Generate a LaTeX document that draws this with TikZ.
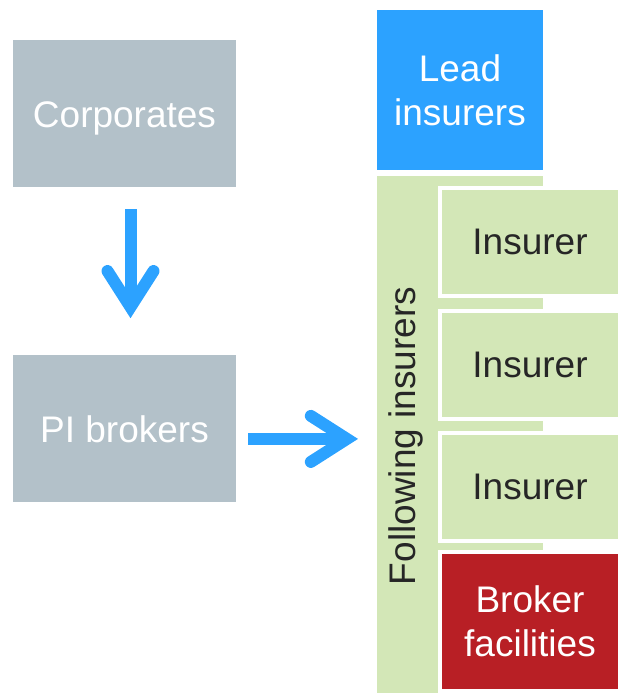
\documentclass[tikz,border=0pt]{standalone}
\usepackage{fontspec}
\setmainfont{Liberation Sans}
\usetikzlibrary{positioning,arrows.meta}

\definecolor{corpgray}{RGB}{179,193,201}
\definecolor{leadblue}{RGB}{44,162,255}
\definecolor{insgreen}{RGB}{211,231,183}
\definecolor{brokerred}{RGB}{184,31,37}
\definecolor{darktext}{RGB}{38,38,38}

\begin{document}
\begin{tikzpicture}[
    x=1pt, y=-1pt,
    bigfont/.style={font=\fontsize{37}{44}\selectfont},
    party/.style={rectangle, fill=corpgray, text=white, minimum width=223pt, minimum height=147pt, align=center, bigfont, text height=27pt, text depth=0pt},
    market/.style={rectangle, align=center, bigfont, outer sep=0pt},
    insurer/.style={market, draw=white, line width=4pt, fill=insgreen, text=darktext, minimum width=180pt, minimum height=108pt},
    flow/.style={draw=leadblue, line width=12pt, -{Straight Barb[length=36pt, width=46pt, line cap=round, line join=miter]}}
]

\useasboundingbox (0,0) rectangle (618,693);

% Client side
\node[party] (corp) at (124.5,113.5) {Corporates};
\node[party, below=168pt of corp] (pi-brokers) {PI brokers};

% Market side
\node[market, fill=leadblue, text=white, minimum width=166pt, minimum height=160pt] (lead) at (460,90) {Lead\\insurers};
\node[market, fill=insgreen, minimum width=166pt, minimum height=517pt, below=6pt of lead] (following) {};
\node[rotate=90, bigfont, text=darktext] (following-label) at (406,436) {Following insurers};

% Insurer boxes
\node[insurer] (ins-1) at (530,241.5) {Insurer};
\node[insurer, below=15pt of ins-1] (ins-2) {Insurer};
\node[insurer, below=14pt of ins-2] (ins-3) {Insurer};
\node[insurer, fill=brokerred, text=white, minimum height=139pt, below=11pt of ins-3] (broker-fac) {Broker\\facilities};

% Arrows
\draw[flow, shorten <=22pt, shorten >=37pt] ([xshift=6pt]corp.south) -- ([xshift=6pt]pi-brokers.north);
\draw[flow, shorten <=12pt, shorten >=19pt] ([yshift=-10pt]pi-brokers.east) -- ([yshift=-10pt]pi-brokers.east -| following.west);

\end{tikzpicture}
\end{document}
